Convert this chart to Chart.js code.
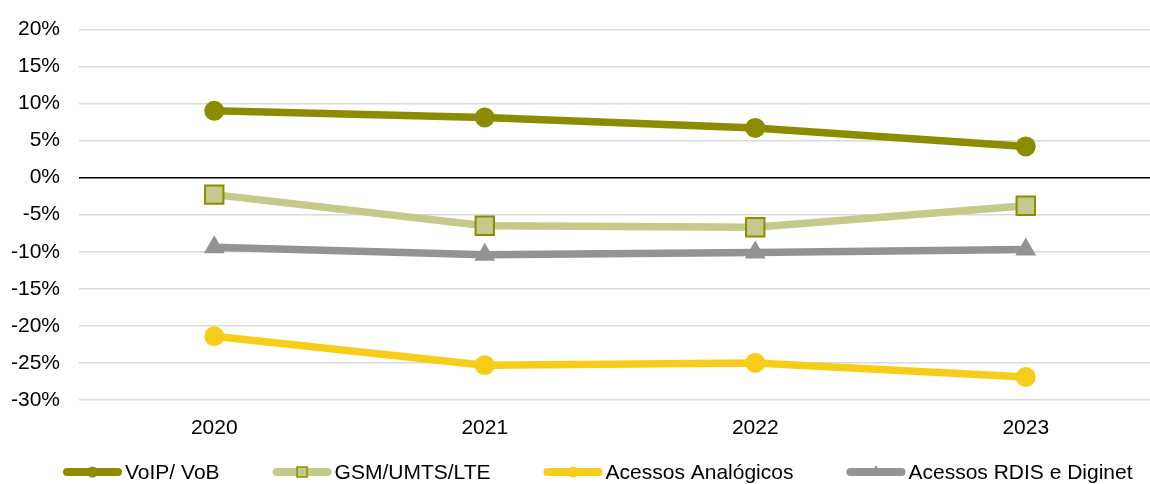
<!DOCTYPE html>
<html>
<head>
<meta charset="utf-8">
<script src="https://cdn.jsdelivr.net/npm/chart.js@4.4.1/dist/chart.umd.min.js"></script>
<style>
html,body{margin:0;padding:0;background:#fff;overflow:hidden;}
canvas{display:block;}
</style>
</head>
<body>
<canvas id="c" width="1161" height="484" style="width:1161px;height:484px"></canvas>
<script>
const categories = ['2020', '2021', '2022', '2023'];
const voip = [9.0, 8.1, 6.7, 4.2];
const gsm = [-2.3, -6.5, -6.7, -3.8];
const analogicos = [-21.4, -25.3, -25.0, -26.9];
const rdis = [-9.4, -10.4, -10.1, -9.7];
const seriesNames = ['VoIP/ VoB', 'GSM/UMTS/LTE', 'Acessos Analógicos', 'Acessos RDIS e Diginet'];
const yMin = -30, yMax = 20, yStep = 5;

const FONT = '"Liberation Sans", Arial, sans-serif';
const FS = 21;

const legendPlugin = {
  id: 'customLegend',
  afterDraw(chart) {
    const ctx = chart.ctx;
    const y = 472;
    let x = 63;
    ctx.save();
    ctx.font = FS + 'px ' + FONT;
    ctx.textBaseline = 'middle';
    ctx.textAlign = 'left';
    chart.data.datasets.forEach(ds => {
      ctx.strokeStyle = ds.borderColor;
      ctx.lineWidth = 8;
      ctx.lineCap = 'round';
      ctx.beginPath();
      ctx.moveTo(x + 4, y);
      ctx.lineTo(x + 55, y);
      ctx.stroke();
      const cx = x + 29.5;
      ctx.fillStyle = ds.pointBackgroundColor;
      if (ds.pointStyle === 'circle') {
        ctx.beginPath(); ctx.arc(cx, y, 5.5, 0, Math.PI * 2); ctx.fill();
      } else if (ds.pointStyle === 'rect') {
        ctx.fillRect(cx - 5, y - 5, 10, 10);
        ctx.lineWidth = 1.5; ctx.strokeStyle = ds.pointBorderColor;
        ctx.strokeRect(cx - 5, y - 5, 10, 10);
      } else if (ds.pointStyle === 'triangle') {
        ctx.beginPath();
        ctx.moveTo(cx, y - 7); ctx.lineTo(cx + 6, y + 4); ctx.lineTo(cx - 6, y + 4);
        ctx.closePath(); ctx.fill();
      }
      ctx.fillStyle = '#000';
      ctx.fillText(ds.label, x + 62, y + 1);
      x += 62 + ctx.measureText(ds.label).width + 53;
    });
    ctx.restore();
  }
};

new Chart(document.getElementById('c'), {
  type: 'line',
  data: {
    labels: categories,
    datasets: [
      { label: seriesNames[0], data: voip, borderColor: '#8c8c00', backgroundColor: '#8c8c00',
        pointStyle: 'circle', pointRadius: 10, pointBackgroundColor: '#8c8c00', pointBorderColor: '#8c8c00', pointBorderWidth: 0 },
      { label: seriesNames[1], data: gsm, borderColor: '#c5c98a', backgroundColor: '#c5c98a',
        pointStyle: 'rect', pointRadius: 13, pointBackgroundColor: '#c5c98a', pointBorderColor: '#8c8c00', pointBorderWidth: 2 },
      { label: seriesNames[2], data: analogicos, borderColor: '#f6ce1a', backgroundColor: '#f6ce1a',
        pointStyle: 'circle', pointRadius: 10, pointBackgroundColor: '#f6ce1a', pointBorderColor: '#f6ce1a', pointBorderWidth: 0 },
      { label: seriesNames[3], data: rdis, borderColor: '#939393', backgroundColor: '#939393',
        pointStyle: 'triangle', pointRadius: 12, pointBackgroundColor: '#939393', pointBorderColor: '#939393', pointBorderWidth: 0 }
    ].map(d => Object.assign(d, { borderWidth: 7.5, tension: 0, fill: false, pointHoverRadius: d.pointRadius }))
  },
  options: {
    responsive: false,
    animation: false,
    events: [],
    layout: { autoPadding: false, padding: { top: 29.3, bottom: 0, left: 0, right: 0 } },
    plugins: { legend: { display: false }, tooltip: { enabled: false } },
    scales: {
      x: {
        offset: true,
        grid: { display: false, drawTicks: false },
        border: { display: false },
        ticks: { color: '#000', font: { family: FONT, size: FS }, padding: 16, maxRotation: 0 },
        afterFit(s) { s.height = 84; s.paddingLeft = 0; s.paddingRight = 0; }
      },
      y: {
        min: yMin, max: yMax,
        grid: {
          drawTicks: false,
          color: c => (c.tick && c.tick.value === 0) ? '#000000' : '#d9d9d9',
          lineWidth: 1.5
        },
        border: { display: false },
        ticks: { stepSize: yStep, color: '#000', font: { family: FONT, size: FS }, padding: 19,
          callback: v => v + '%' },
        afterFit(s) { s.width = 79; s.paddingTop = 0; s.paddingBottom = 0; }
      }
    }
  },
  plugins: [legendPlugin]
});
</script>
</body>
</html>
